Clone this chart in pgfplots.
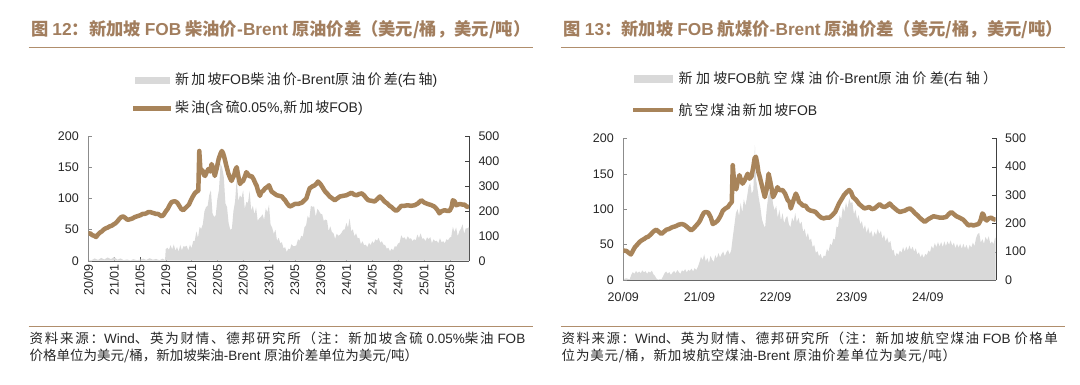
\documentclass[border=0pt]{standalone}
\usepackage{pgfplots}
\pgfplotsset{compat=1.18}
\usepackage{fontspec}
\setmainfont{Liberation Sans}
\newfontfamily\cjk{Noto Sans CJK SC}
\newcommand{\zh}[1]{{\cjk #1}}
\newcommand{\zhs}[2]{{\cjk\addfontfeature{LetterSpace=#1}#2}}
\definecolor{linec}{HTML}{A8845A}
\definecolor{titlec}{HTML}{A27E5E}
\definecolor{rulec}{HTML}{B08E6C}
\definecolor{areag}{HTML}{D9D9D9}
\definecolor{txt}{HTML}{262626}

\pgfplotstableread{
m r
0 4
0.5 2
1 9
1.5 3
2 11
2.5 5
3 13
3.5 6
4 15
4.5 4
5 9
5.5 2
6 5
6.5 1
7 6
7.5 2
8 4
8.5 8
9 3
9.5 10
10 4
10.5 7
11 2
11.5 8
11.9 3
12 46
12.25 52
12.5 44
12.75 62
13 45
13.25 65
13.5 40
13.75 55
14 36
14.25 63
14.5 42
14.75 58
15 56
15.25 60
15.5 41
15.75 64
16 50
16.25 78
16.5 80
16.75 118
17 92
17.25 135
17.5 128
17.75 146
18 198
18.25 215
18.5 220
18.75 264
19 282
19.25 190
19.5 175
19.75 182
20 248
20.25 284
20.5 390
20.75 372
21 335
21.25 230
21.5 215
21.75 150
22 124
22.25 128
22.5 200
22.75 238
23 330
23.25 240
23.5 262
23.75 252
24 282
24.25 208
24.5 236
24.75 232
25 280
25.25 200
25.5 220
25.75 186
26 214
26.25 160
26.5 170
26.75 176
27 186
27.25 164
27.5 210
27.75 194
28 224
28.25 145
28.5 132
28.75 108
29 124
29.25 80
29.5 92
29.75 70
30 74
30.25 50
30.5 54
30.75 35
31 48
31.25 46
31.5 66
31.75 58
32 58
32.25 62
32.5 86
32.75 80
33 100
33.25 96
33.5 134
33.75 142
34 180
34.25 168
34.5 220
34.75 216
35 218
35.25 176
35.5 208
35.75 200
36 188
36.25 186
36.5 160
36.75 165
37 162
37.25 118
37.5 138
37.75 115
38 110
38.25 88
38.5 108
38.75 100
39 104
39.25 112
39.5 124
39.75 126
40 152
40.25 132
40.5 170
40.75 118
41 126
41.25 98
41.5 110
41.75 90
42 92
42.25 66
42.5 78
42.75 62
43 64
43.25 54
43.5 72
43.75 62
44 78
44.25 70
44.5 86
44.75 80
45 92
45.25 72
45.5 78
45.75 64
46 63
46.25 48
46.5 52
46.75 38
47 48
47.25 42
47.5 58
47.75 56
48 69
48.25 72
48.5 102
48.75 90
49 94
49.25 82
49.5 98
49.75 88
50 90
50.25 79
50.5 86
50.75 82
51 105
51.25 90
51.5 110
51.75 88
52 90
52.25 78
52.5 94
52.75 86
53 95
53.25 70
53.5 86
53.75 78
54 80
54.25 70
54.5 90
54.75 74
55 78
55.25 70
55.5 86
55.75 82
56 92
56.25 96
56.5 136
56.75 114
57 134
57.25 98
57.5 118
57.75 128
58 146
58.25 108
58.5 130
58.75 130
59 134
}\leftarea

\pgfplotstableread{
m v
0 43
0.3 44
0.6 41
0.9 40
1.2 38
1.5 42
1.8 45
2.1 47
2.4 50
2.7 52
3.0 53
3.3 55
3.6 56
3.9 58
4.2 60
4.5 63
4.8 67
5.1 70
5.4 71
5.7 69
6.0 66
6.3 66
6.6 67
6.9 68
7.2 70
7.5 71
7.8 72
8.1 73
8.4 75
8.7 75
9.0 76
9.3 78
9.6 78
9.9 77
10.2 76
10.5 75
10.8 75
11.1 73
11.4 71
11.7 74
12.0 79
12.3 83
12.6 89
12.9 94
13.2 95
13.5 95
13.8 93
14.1 88
14.4 83
14.7 81
15.0 84
15.3 87
15.6 90
15.9 97
16.2 103
16.5 108
16.8 111
17.05 112
17.2 176
17.35 150
17.5 142
17.7 145
17.9 138
18.1 136
18.3 141
18.6 147
18.9 143
19.1 155
19.3 150
19.6 136
19.9 148
20.2 163
20.5 172
20.7 176
20.9 172
21.1 165
21.4 152
21.7 140
22.0 132
22.2 128
22.4 133
22.6 137
22.8 146
23.0 150
23.2 138
23.5 123
23.7 126
24.0 128
24.3 136
24.5 142
24.8 138
25.0 135
25.3 136
25.6 131
25.9 124
26.1 120
26.3 112
26.6 104
26.8 110
27.1 112
27.4 116
27.7 118
28.0 121
28.2 116
28.4 111
28.8 108
29.2 105
29.6 104
30.0 103
30.3 99
30.5 97
30.8 92
31.2 87
31.5 88
32.0 91
32.5 91
33.1 93
33.5 97
33.8 100
34.1 110
34.3 116
34.7 119
35.1 121
35.4 124
35.6 127
35.9 124
36.1 121
36.4 116
36.7 111
37.0 108
37.4 103
37.8 100
38.2 97
38.6 100
39.0 103
39.5 104
40.0 105
40.4 107
40.8 109
41.2 106
41.6 105
42.0 107
42.4 108
42.8 104
43.1 100
43.4 97
43.9 96
44.4 95
44.8 99
45.2 103
45.5 100
45.9 95
46.3 92
46.7 88
47.0 86
47.3 83
47.7 80
48.0 82
48.5 88
49.0 88
49.5 89
50.0 88
50.6 89
51.1 92
51.6 97
52.1 93
52.6 91
53.2 89
53.6 87
53.9 84
54.2 80
54.4 76
54.7 79
55.2 81
55.6 80
56.0 80
56.3 86
56.5 97
56.8 95
57.0 89
57.3 90
57.6 91
58.0 90
58.3 90
58.6 87
59.0 86
}\leftline

\pgfplotstableread{
m r
0 3
0.5 6
1 2
1.25 18
1.5 28
1.75 22
2 32
2.25 25
2.5 30
2.75 24
3 34
3.25 27
3.5 31
3.75 22
4 30
4.25 26
4.5 33
4.75 20
5 14
5.25 4
5.5 1
5.75 3
6 2
6.25 12
6.5 24
6.75 30
7 22
7.25 28
7.5 18
7.75 26
8 32
8.25 24
8.5 35
8.75 28
9 22
9.25 34
9.5 30
9.75 38
10 27
10.25 36
10.5 32
10.75 40
11 30
11.25 42
11.5 35
11.75 46
12 62
12.25 82
12.5 70
12.75 90
13 66
13.25 78
13.5 60
13.75 85
14 72
14.25 64
14.5 88
14.75 76
15 95
15.25 80
15.5 92
15.75 100
16 84
16.25 98
16.5 106
16.75 90
17 104
17.25 150
17.5 192
17.75 236
18 250
18.25 226
18.5 272
18.75 238
19 285
19.25 262
19.5 292
19.75 330
20 342
20.25 305
20.5 318
20.75 476
20.9 360
21.1 330
21.35 290
21.6 258
21.85 215
22.1 196
22.35 184
22.6 250
22.85 296
23.1 312
23.35 318
23.6 268
23.85 246
24.1 262
24.35 220
24.6 248
24.85 210
25.1 236
25.35 200
25.6 218
25.85 226
26.1 196
26.35 186
26.6 220
26.85 206
27.1 236
27.35 204
27.6 220
27.85 196
28.1 206
28.35 170
28.6 180
28.85 150
29.1 166
29.35 140
29.6 146
29.85 116
30.1 124
30.35 96
30.6 102
30.85 84
31.1 92
31.35 74
31.6 86
31.85 84
32.1 110
32.35 100
32.6 128
32.85 122
33.1 146
33.35 142
33.6 188
33.85 186
34.1 228
34.35 214
34.6 258
34.85 240
35.1 274
35.35 252
35.6 288
35.85 270
36.1 276
36.35 232
36.6 248
36.85 214
37.1 230
37.35 196
37.6 208
37.85 178
38.1 194
38.35 166
38.6 186
38.85 162
39.1 174
39.35 150
39.6 170
39.85 158
40.1 180
40.35 162
40.6 174
40.85 146
41.1 160
41.35 136
41.6 150
41.85 130
42.1 138
42.35 104
42.6 106
42.85 82
43.1 96
43.35 88
43.6 104
43.85 96
44.1 116
44.35 100
44.6 118
44.85 104
45.1 122
45.35 106
45.6 118
45.85 100
46.1 112
46.35 90
46.6 98
46.85 80
47.1 92
47.35 78
47.6 92
47.85 88
48.1 104
48.35 98
48.6 120
48.85 110
49.1 130
49.35 116
49.6 134
49.85 118
50.1 134
50.35 116
50.6 136
50.85 120
51.1 136
51.35 124
51.6 140
51.85 120
52.1 132
52.35 112
52.6 128
52.85 114
53.1 128
53.35 110
53.6 128
53.85 112
54.1 124
54.35 106
54.6 124
54.85 114
55.1 132
55.35 120
55.6 148
55.85 162
56.1 166
56.35 132
56.6 144
56.85 128
57.1 152
57.35 140
57.6 154
57.85 128
58.1 136
58.35 126
58.6 150
58.7 146
}\rightarea

\pgfplotstableread{
m v
0 41.6
0.5 41
0.9 38
1.2 36
1.5 41
1.8 46
2.2 50
2.6 54
2.9 56
3.3 58
3.6 60
3.9 61
4.3 64
4.7 68
5.0 70
5.2 71
5.6 68
6.0 65
6.4 68
6.8 71
7.2 72
7.6 74
7.9 75
8.3 76
8.7 78
9.2 79
9.6 78
9.9 76
10.3 73
10.7 70
11.1 73
11.5 77
11.8 80
12.1 84
12.4 90
12.7 95
13.0 96
13.4 95
13.8 88
14.1 79
14.5 81
14.9 84
15.3 90
15.7 98
16.1 101
16.5 103
16.8 107
17.1 110
17.25 162
17.4 145
17.6 131
17.8 128
18.0 137
18.3 148
18.6 140
18.8 136
19.1 140
19.4 146
19.6 150
19.9 143
20.2 146
20.5 160
20.7 172
20.9 174
21.1 165
21.3 152
21.5 146
21.8 135
22.0 128
22.3 117
22.6 128
22.9 150
23.1 142
23.4 128
23.6 117
23.9 122
24.3 131
24.6 127
25.1 127
25.5 122
25.9 113
26.2 110
26.4 101
26.8 112
27.2 122
27.5 116
27.7 110
28.0 108
28.3 105
28.7 105
29.1 100
29.5 98
30.0 97
30.3 96
30.8 91
31.2 88
31.6 87
32.0 88
32.5 88
33.0 92
33.4 96
33.7 102
34.0 108
34.4 114
34.8 120
35.2 124
35.6 127
35.9 124
36.2 117
36.7 113
37.2 107
37.6 104
38.0 101
38.4 102
38.8 103
39.2 100
39.6 101
40.0 104
40.4 107
40.8 104
41.2 103
41.6 105
42.0 108
42.4 104
42.8 101
43.2 98
43.6 96
44.0 97
44.4 98
44.8 100
45.2 101
45.6 98
46.0 94
46.4 91
46.7 88
47.1 85
47.5 82
47.8 84
48.1 86
48.5 88
48.9 90
49.4 89
49.9 88
50.4 88
50.9 89
51.3 93
51.7 96
52.1 93
52.5 90
53.0 88
53.6 85
54.0 81
54.4 77
54.8 78
55.2 77
55.6 78
56.0 79
56.3 84
56.6 94
56.8 92
57.0 86
57.3 84
57.6 87
58.0 88
58.3 86
58.7 85
}\rightline

\pgfplotsset{
  base/.style={
    scale only axis,
    anchor=south west,
    xmin=0,
    tick align=inside,
    major tick length=4pt,
    tick label style={font=\fontsize{12.5}{14}\selectfont, text=txt},
    /pgf/number format/assume math mode=true,
    clip=true,
  },
}

\begin{document}
\begin{tikzpicture}[x=1pt,y=1pt]
\path[use as bounding box] (0,0) rectangle (1080,-385);

% ---------- LEFT PANEL ----------
\node[anchor=west, inner sep=0, text=titlec, font=\fontsize{17.3}{19}\selectfont\bfseries] at (31,-29.5)
  {\zh{图 }12\zh{：新加坡 }FOB\zh{ 柴油价}-Brent\zh{ 原油价差（美元/桶，美元/吨）}};
\draw[rulec, line width=1.6pt] (28.7,-47.4) -- (533,-47.4);
\fill[areag] (135,-77) rectangle (169.7,-84);
\node[anchor=west, inner sep=0, text=txt, font=\fontsize{14}{16}\selectfont] at (175,-80.5)
  {\zhs{16}{新加坡}FOB\zhs{16}{柴油价}-Brent\zhs{16}{原油价差}(\zhs{16}{右轴})};
\draw[linec, line width=4.5pt] (133,-108.4) -- (171,-108.4);
\node[anchor=west, inner sep=0, text=txt, font=\fontsize{14}{16}\selectfont] at (175,-108.4)
  {\zhs{14}{柴油}(\zhs{14}{含硫}0.05\%,\zhs{14}{新加坡}FOB)};

\begin{axis}[base, at={(88.3pt,-260.7pt)}, width=380.7pt, height=124.7pt,
  xmax=59, ymin=0, ymax=500,
  axis x line*=bottom, axis y line*=right,
  x axis line style={draw=black!65}, y axis line style={draw=black!75},
  xtick style={draw=black!65}, ytick style={draw=black!75},
  xtick={0,4,...,56},
  xticklabels={20/09,21/01,21/05,21/09,22/01,22/05,22/09,23/01,23/05,23/09,24/01,24/05,24/09,25/01,25/05},
  x tick label style={rotate=90, anchor=east, xshift=0pt},
  ytick={0,100,...,500},
  yticklabel style={anchor=west, xshift=6pt},
]
\addplot[fill=areag, draw=none] table[x=m, y=r] {\leftarea} \closedcycle;
\end{axis}
\begin{axis}[base, at={(88.3pt,-260.7pt)}, width=380.7pt, height=124.7pt,
  xmax=59, ymin=0, ymax=200,
  axis x line=none, axis y line*=left,
  y axis line style={draw=black!45}, ytick style={draw=black!45},
  ytick={0,50,...,200},
  yticklabel style={anchor=east, xshift=-6pt},
]
\addplot[linec, line width=4.5pt, line join=round] table[x=m, y=v] {\leftline};
\end{axis}

\draw[rulec, line width=1.6pt] (28.7,-326.3) -- (533,-326.3);
\node[anchor=west, inner sep=0, text=txt, font=\fontsize{13.5}{15}\selectfont] at (29.4,-338)
  {\zhs{13}{资料来源：}Wind\zhs{13}{、英为财情、德邦研究所（注：新加坡含硫}\ 0.05\%\zhs{13}{柴油}\ FOB};
\node[anchor=west, inner sep=0, text=txt, font=\fontsize{13.5}{15}\selectfont] at (29.4,-355.5)
  {\zh{价格单位为美元/桶，新加坡柴油}-Brent\ \zh{原油价差单位为美元/吨）}};

% ---------- RIGHT PANEL ----------
\node[anchor=west, inner sep=0, text=titlec, font=\fontsize{17.3}{19}\selectfont\bfseries] at (563.5,-29.5)
  {\zh{图 }13\zh{：新加坡 }FOB\zh{ 航煤价}-Brent\zh{ 原油价差（美元/桶，美元/吨）}};
\draw[rulec, line width=1.6pt] (560.8,-47.4) -- (1064.6,-47.4);
\fill[areag] (633.5,-75.5) rectangle (673.3,-83);
\node[anchor=west, inner sep=0, text=txt, font=\fontsize{14}{16}\selectfont] at (678.5,-79.2)
  {\zhs{24}{新加坡}FOB\zhs{24}{航空煤油价}-Brent\zhs{24}{原油价差}(\zhs{24}{右轴）}};
\draw[linec, line width=4.5pt] (633,-110) -- (673.3,-110);
\node[anchor=west, inner sep=0, text=txt, font=\fontsize{14}{16}\selectfont] at (678.5,-110)
  {\zhs{14}{航空煤油新加坡}FOB};

\begin{axis}[base, at={(623.3pt,-280pt)}, width=372.4pt, height=141.7pt,
  xmax=58.7, ymin=0, ymax=500,
  axis x line*=bottom, axis y line*=right,
  x axis line style={draw=black!65}, y axis line style={draw=black!75},
  xtick style={draw=black!65}, ytick style={draw=black!75},
  xtick={0,12,24,36,48},
  xticklabels={20/09,21/09,22/09,23/09,24/09},
  x tick label style={anchor=north, yshift=-9pt},
  ytick={0,100,...,500},
  yticklabel style={anchor=west, xshift=6pt},
]
\addplot[fill=areag, draw=none] table[x=m, y=r] {\rightarea} \closedcycle;
\end{axis}
\begin{axis}[base, at={(623.3pt,-280pt)}, width=372.4pt, height=141.7pt,
  xmax=58.7, ymin=0, ymax=200,
  axis x line=none, axis y line*=left,
  y axis line style={draw=black!45}, ytick style={draw=black!45},
  ytick={0,50,...,200},
  yticklabel style={anchor=east, xshift=-6pt},
]
\addplot[linec, line width=4.5pt, line join=round] table[x=m, y=v] {\rightline};
\end{axis}

\draw[rulec, line width=1.6pt] (560.8,-326.3) -- (1064.6,-326.3);
\node[anchor=west, inner sep=0, text=txt, font=\fontsize{13.5}{15}\selectfont] at (561.5,-338)
  {\zhs{11}{资料来源：}Wind\zhs{11}{、英为财情、德邦研究所（注：新加坡航空煤油}\ FOB\ \zhs{11}{价格单}};
\node[anchor=west, inner sep=0, text=txt, font=\fontsize{13.5}{15}\selectfont] at (561.5,-355.5)
  {\zhs{6}{位为美元/桶，新加坡航空煤油}-Brent\ \zhs{6}{原油价差单位为美元/吨）}};
\end{tikzpicture}
\end{document}
